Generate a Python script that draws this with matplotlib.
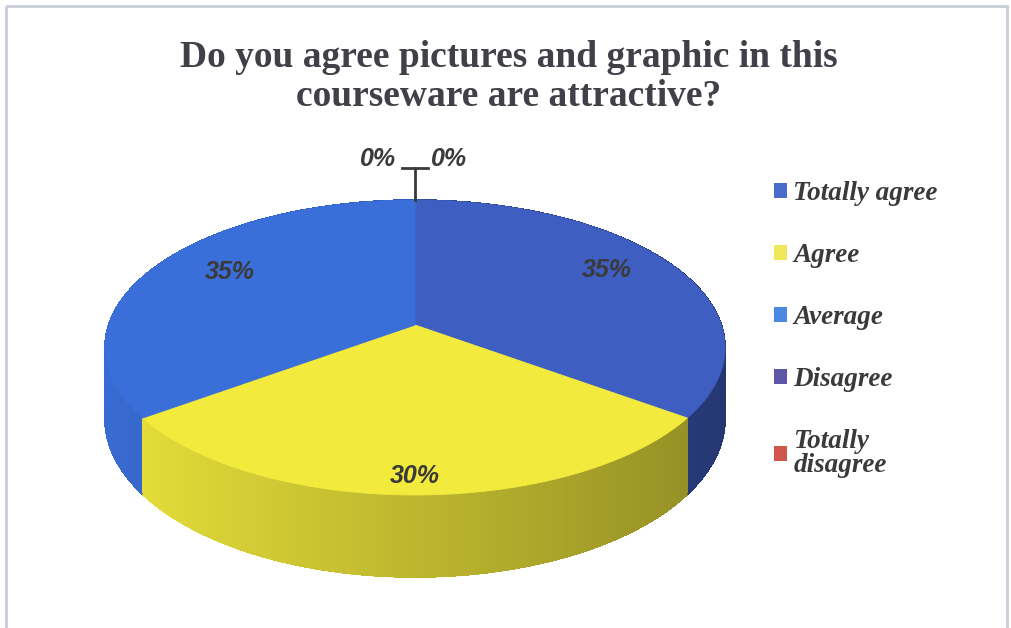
import numpy as np
import matplotlib
matplotlib.use("Agg")
import matplotlib.pyplot as plt
from matplotlib.patches import Polygon, Patch, Rectangle
from matplotlib.collections import LineCollection
from matplotlib.font_manager import FontProperties

title = "Do you agree pictures and graphic in this\ncourseware are attractive?"
categories = ["Totally agree", "Agree", "Average", "Disagree", "Totally\ndisagree"]
percent = [35, 30, 35, 0, 0]
colors = ["#3F5EC2", "#F2EA3C", "#3A6ED8", "#5B52A6", "#D0574A"]
legend_colors = ["#4A6CCB", "#EFE85A", "#4A88E4", "#5E56A8", "#D0574A"]

# perspective for the tilted disc: x/y in pixels, t = 0 at 12 o'clock, clockwise
CX, CY = 415, 325
KX = 306.4
PY, PERSP = -94.5, 0.1525
DEPTH = 69.5


def project(t, r=1.0):
    u = r * np.sin(t)
    v = r * np.cos(t)
    s = 1.0 / (1 + PERSP * v)
    return CX + KX * u * s, (PY * v + CY) * s, s


def shade(hex_color, f):
    rgb = np.array(matplotlib.colors.to_rgb(hex_color))
    return tuple(np.clip(rgb * f, 0, 1))


fig = plt.figure(figsize=(10.11, 6.28), dpi=100)
ax = fig.add_axes([0, 0, 1, 1])
ax.set_xlim(0, 1011)
ax.set_ylim(628, 0)
ax.axis("off")

# frame round the chart area
ax.add_patch(Rectangle((6, 6), 1001, 640, fill=False, ec="#C9CDD8", lw=2))

fracs = np.array(percent) / sum(percent)
bounds = np.concatenate([[0], np.cumsum(fracs)]) * 2 * np.pi

# outer walls, drawn far-to-near; light comes from the front left
quads = []
for i, (t0, t1) in enumerate(zip(bounds[:-1], bounds[1:])):
    if t1 - t0 <= 0:
        continue
    ts = np.linspace(t0, t1, 2 * max(int(np.degrees(t1 - t0)), 2) + 1)
    for a, b in zip(ts[:-1], ts[1:]):
        xa, ya, sa = project(a)
        xb, yb, sb = project(b)
        m = 0.5 * (a + b)
        f = 0.78 - 0.2 * np.sin(m)
        pts = [(xa, ya), (xb, yb), (xb, yb + DEPTH * sb), (xa, ya + DEPTH * sa)]
        quads.append((np.cos(m), pts, shade(colors[i], f)))
quads.sort(key=lambda q: -q[0])
for _, pts, c in quads:
    ax.add_patch(Polygon(pts, closed=True, fc=c, ec=c, lw=0.5,
                         antialiased=False, zorder=1))
# smooth the lower rim of the front walls
front = [q for q in quads if q[0] < 0.2]
rim = [[q[1][3], q[1][2]] for q in front]
ax.add_collection(LineCollection(rim, colors=[q[2] for q in front], lw=1.0,
                                 zorder=1.5))

# top faces
for i, (t0, t1) in enumerate(zip(bounds[:-1], bounds[1:])):
    if t1 - t0 <= 0:
        continue
    ts = np.linspace(t0, t1, 200)
    xs, ys, _ = project(ts)
    pts = [(CX, CY)] + list(zip(xs, ys))
    ax.add_patch(Polygon(pts, closed=True, fc=colors[i], ec=colors[i], lw=0.6,
                         zorder=2))

# data labels
label_font = dict(family="Liberation Sans", weight="bold", style="italic",
                  size=18, color="#3A3A3A", ha="center", va="center",
                  zorder=3)
label_r = [0.74, 0.95, 0.71]
zero_idx = []
for i, p in enumerate(percent):
    if p == 0:
        zero_idx.append(i)
        continue
    m = 0.5 * (bounds[i] + bounds[i + 1])
    lx, ly, _ = project(m, label_r[i])
    ax.text(lx, ly - 9, f"{p}%", **label_font)

# zero slices sit at 12 o'clock: leader line and labels above the rim
px, py, _ = project(bounds[-1])
ax.plot([px, px], [py, py - 32], color="#3A3A3A", lw=2)
ax.plot([px - 13, px + 13], [py - 32, py - 32], color="#3A3A3A", lw=2)
for k, i in enumerate(zero_idx):
    dx = -37 if k == 0 else 34
    ax.text(px + dx, py - 41, f"{percent[i]}%", **label_font)

ax.text(509, 77, title, ha="center", va="center", fontsize=27,
        family="Liberation Serif", weight="bold", color="#404048",
        linespacing=1.18)

handles = [Patch(fc=c, ec="none") for c in legend_colors]
leg = fig.legend(handles, categories, loc="upper left",
                 bbox_to_anchor=(763 / 1011, 1 - 170 / 628), frameon=False,
                 prop=FontProperties(family="Liberation Serif", weight="bold",
                                     style="italic", size=19.5),
                 labelcolor="#3A3A3A", handlelength=0.47, handleheight=0.47,
                 handletextpad=0.25, labelspacing=1.37, borderaxespad=0)
for txt in leg.get_texts():
    txt.set_linespacing(0.95)

fig.savefig("out.png", dpi=100)
